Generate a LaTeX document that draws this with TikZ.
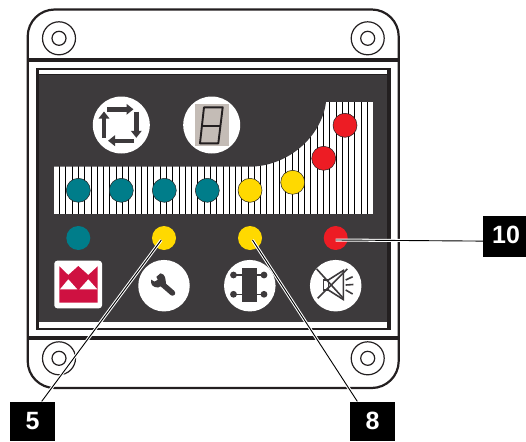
\documentclass[tikz,border=0pt]{standalone}
\usepackage{fontspec}
\setmainfont{Liberation Sans}
\usetikzlibrary{arrows.meta}
\definecolor{panel}{HTML}{3D3A3C}
\definecolor{ink}{HTML}{231F20}
\definecolor{tealled}{HTML}{007D8A}
\definecolor{yellowled}{HTML}{FFD900}
\definecolor{redled}{HTML}{ED1C24}
\definecolor{terex}{HTML}{CF1141}
\definecolor{digitbg}{HTML}{C4BCB6}
\tikzset{
  led/.style={circle,inner sep=0pt,minimum size=24pt,draw=ink,line width=0.5pt},
  flatled/.style={circle,inner sep=0pt,minimum size=24pt},
  iconbig/.style={circle,fill=white,inner sep=0pt,minimum size=57pt},
  iconsmall/.style={circle,fill=white,inner sep=0pt,minimum size=51.5pt},
  screwout/.style={circle,draw=ink,line width=1.2pt,inner sep=0pt,minimum size=33pt},
  screwin/.style={circle,draw=ink,line width=1.2pt,inner sep=0pt,minimum size=14pt},
  tag/.style={fill=black,text=white,inner sep=0pt,font=\fontsize{25}{26}\selectfont\bfseries},
  halo/.style={white,line width=3pt},
  leader/.style={black,line width=0.9pt},
  cyclearrow/.style={panel,line width=4.4pt,-{Triangle[length=7pt,width=10.5pt]}},
  glyph/.style={panel,line width=1.6pt},
  stripeline/.style={black,line width=1pt}
}
\begin{document}
\begin{tikzpicture}[x=1pt,y=-1pt]
\useasboundingbox (0,0) rectangle (526,441);
% housing
\draw[ink,line width=2.2pt,rounded corners=27pt] (27.7,9.5) rectangle (398.7,388);
\draw[ink,line width=3.8pt] (27.7,60) -- (398.7,60);
\draw[ink,line width=3.8pt] (27.7,337.8) -- (398.7,337.8);
% screws
\foreach \n/\x/\y in {a/59/38.3,b/367.7/38.3,c/59/358.3,d/367.7/358.3}{
  \node[screwout] (so\n) at (\x,\y) {};
  \node[screwin] (si\n) at (\x,\y) {};
}
% frame and panel
\fill[ink] (36,68.3) rectangle (390.7,329.6);
\fill[white] (39,70.3) rectangle (386.5,74.3);
\fill[white] (39,322) rectangle (387,327.8);
\fill[panel] (39,75) rectangle (387,322);
% striped band
\fill[white] (54.3,102) rectangle (373,213.7);
\begin{scope}
\clip (54.3,102) rectangle (373,213.7);
\foreach \k in {-4,...,46}{\draw[stripeline] ({78.5+6.283*\k},102) -- ({78.5+6.283*\k},213.7);}
\end{scope}
\fill[panel] (54,101) -- (326,101) -- (326,102) .. controls (322,135) and (290,166) .. (250,166.7) -- (54,166.7) -- cycle;
% strip leds
\foreach \n/\x/\y/\c in {s1/78.3/190.3/tealled,s2/121.3/190.3/tealled,s3/164.3/190.3/tealled,s4/207.3/190.3/tealled,s5/250/190.3/yellowled,s6/292.7/182.3/yellowled,s7/323.7/158.3/redled,s8/345/125.3/redled}{
  \node[led,fill=\c] (\n) at (\x,\y) {};
}
% top icons
\node[iconbig] (cycle) at (121.3,125) {};
\node[iconbig] (digit) at (211.7,125) {};
\draw[cyclearrow] (107.3,109.3) -- (133.5,109.3);
\draw[cyclearrow] (136.3,111.7) -- (136.3,137.8);
\draw[cyclearrow] (134,140.7) -- (108,140.7);
\draw[cyclearrow] (104,137.7) -- (104,111.5);
\fill[digitbg] (195,104) rectangle (229,146);
\draw[ink,line width=1.9pt,line join=round] (204,107.3) -- (222.7,107.3) -- (218.3,143.3) -- (200,143.3) -- cycle;
\draw[ink,line width=1.9pt] (202,125.7) -- (220.5,125.7);
% lower leds
\node[flatled,fill=tealled] (l1) at (78.3,238) {};
\node[flatled,fill=yellowled] (l2) at (164,238) {};
\node[flatled,fill=yellowled] (l3) at (250,238) {};
\node[flatled,fill=redled] (l4) at (335.7,238) {};
% logo
\fill[white,rounded corners=3pt] (54.3,260.7) rectangle (102,308.3);
\fill[terex] (59.3,266.3) -- (68.3,275) -- (78.3,266) -- (88.3,275) -- (97.7,266.3) -- (97.7,302.7) -- (59.3,302.7) -- cycle;
\fill[white] (60,289.3) -- (68.3,279.3) -- (77.3,289.3) -- cycle;
\fill[white] (79.3,289.3) -- (88.3,279.3) -- (97.3,289.3) -- cycle;
% wrench
\node[iconsmall] (wrench) at (164,285.7) {};
\draw[panel,line width=5.5pt,line cap=round] (161,283) -- (172.5,293);
\fill[panel] (160.5,273.3) -- (156.4,276.8) -- (157.8,279.8) -- (154.5,281.6) -- (151,279.6)
  .. controls (150.3,284) and (152.5,287.5) .. (158,287.5) -- (166,284)
  .. controls (165.5,279) and (165.5,274) .. (160.5,273.3) -- cycle;
% chip
\node[iconsmall] (chip) at (249.8,285.7) {};
\draw[panel,line width=1.6pt] (233.5,275) -- (264,275);
\draw[panel,line width=1.6pt] (233.5,294.3) -- (264,294.3);
\fill[panel] (233.5,275) circle (3.4pt) (264,275) circle (3.4pt) (233.5,294.3) circle (3.4pt) (264,294.3) circle (3.4pt);
\fill[panel] (241.7,267.7) rectangle (256.7,301.7);
% mute
\node[iconsmall] (mute) at (335.7,285.7) {};
\draw[glyph,line join=miter] (323.3,280) rectangle (328.3,290);
\draw[glyph] (328.3,280) -- (343.3,270.5) -- (343.3,299.5) -- (328.3,290);
\draw[glyph] (316.7,269) -- (343.3,298.3);
\draw[glyph] (347.3,269) -- (317.7,298.3);
\draw[glyph] (345.7,280) -- (352.7,276.7);
\draw[glyph] (345.7,285) -- (353.3,284.5);
\draw[glyph] (345.7,290) -- (352.7,294);
% tags
\node[tag,minimum width=45pt,minimum height=39.4pt] (t5) at (32.5,421.3) {5};
\node[tag,minimum width=44.4pt,minimum height=39.4pt] (t8) at (372.5,421.3) {8};
\node[tag,minimum width=46pt,minimum height=40.7pt] (t10) at (506,236.3) {\raisebox{4pt}{10}};
% leaders
\coordinate (e5) at (161.3,240);
\coordinate (e8) at (252.5,240);
\coordinate (e10) at (335.7,240);
\draw[halo] (e5) -- ([xshift=9.2pt]t5.north);
\draw[halo] (e8) -- ([xshift=-15.2pt]t8.north);
\draw[halo] (e10) -- ([yshift=-4.8pt]t10.west);
\draw[leader] (e5) -- ([xshift=9.2pt]t5.north);
\draw[leader] (e8) -- ([xshift=-15.2pt]t8.north);
\draw[leader] (e10) -- ([yshift=-4.8pt]t10.west);
\end{tikzpicture}
\end{document}
